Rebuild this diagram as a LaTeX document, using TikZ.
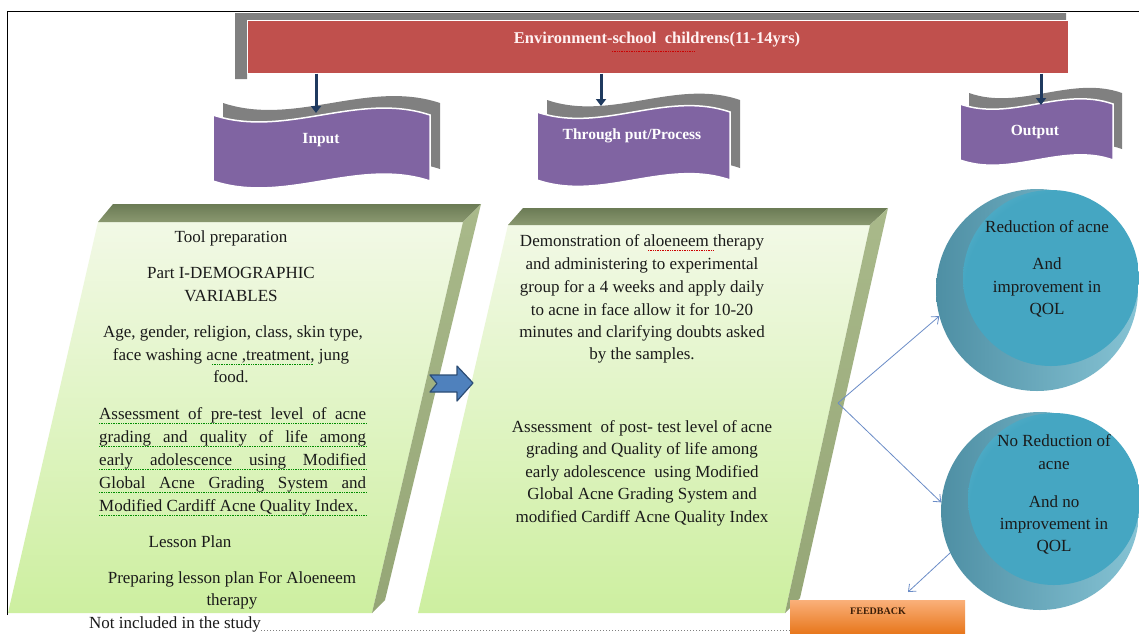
\documentclass[tikz,border=0pt]{standalone}
\usepackage{fontspec}
\setmainfont{Liberation Serif}
\usetikzlibrary{arrows.meta,shapes.geometric}
\definecolor{bannerred}{HTML}{C0504D}
\definecolor{shadowgray}{HTML}{808080}
\definecolor{wavepurple}{HTML}{8064A2}
\definecolor{navyarr}{HTML}{1F3A5F}
\definecolor{facetop}{HTML}{F2F9E6}
\definecolor{facebot}{HTML}{CDEFA0}
\definecolor{bevtopA}{HTML}{6B7B55}
\definecolor{bevtopB}{HTML}{8A9870}
\definecolor{bevsideA}{HTML}{A9B98A}
\definecolor{bevsideB}{HTML}{95A676}
\definecolor{arrowblue}{HTML}{4F81BD}
\definecolor{arrowedge}{HTML}{2C4D75}
\definecolor{linkblue}{HTML}{6A8CC7}
\definecolor{orangetop}{HTML}{FAB07A}
\definecolor{orangebot}{HTML}{E46C0A}
\definecolor{csideA}{HTML}{4E8FA4}
\definecolor{csideB}{HTML}{86C3D4}
\definecolor{cfaceA}{HTML}{45A6C2}
\definecolor{cfaceB}{HTML}{9BD3E2}
\definecolor{txtc}{HTML}{1A1A1A}
\definecolor{fbtext}{HTML}{3B1E08}
\pgfdeclareradialshading{cfaceshade}{\pgfpoint{8bp}{-8bp}}{color(0bp)=(cfaceA); color(28bp)=(cfaceA); color(50bp)=(cfaceB)}
\newcommand\wavebanner[6]{%
  \path[#6] (#1,#2) .. controls ({#1+#3/3},{#2+#5}) and ({#1+2*#3/3},{#2-#5}) .. ({#1+#3},#2)
    -- ({#1+#3},{#2+#4}) .. controls ({#1+2*#3/3},{#2+#4-#5}) and ({#1+#3/3},{#2+#4+#5}) .. (#1,{#2+#4}) -- cycle;}
\begin{document}
\begin{tikzpicture}[x=1pt,y=-1pt,
  txt/.style={font=\fontsize{17}{20}\selectfont, text=txtc, inner sep=0pt, anchor=base},
  bantxt/.style={font=\fontsize{15.5}{18}\selectfont\bfseries, text=white, inner sep=0pt},
  navyarrow/.style={draw=navyarr, line width=3pt, -{Triangle[length=7pt,width=10pt]}},
  linkarrow/.style={draw=linkblue, line width=0.8pt, -{Straight Barb[length=6pt,width=10pt]}},
  dotline/.style={draw=gray, dotted, line width=1pt},
  underg/.style={draw=green!55!black, densely dotted, line width=0.7pt},
  underr/.style={draw=red!80!black, densely dotted, line width=0.7pt}]
\useasboundingbox (0,0) rectangle (1139,633);
\clip (0,0) rectangle (1139,633);
\fill[white] (0,0) rectangle (1139,633);

% page frame
\draw[black, line width=1pt] (7,615) -- (7,11) -- (1139,11);

% environment banner
\fill[shadowgray] (235,13) -- (1066,13) -- (1066,20) -- (247,20) -- (247,79) -- (235,79) -- cycle;
\node[draw=white, line width=1pt, fill=bannerred, minimum width=821pt, minimum height=53pt, inner sep=0pt] (env) at (657.5,46.5) {};
\node[font=\fontsize{16.5}{19}\selectfont\bfseries, text=white!95!red, inner sep=0pt] (envt) at (657,40) {Environment-school\ \ childrens(11-14yrs)};
\draw[underr] (612,51) -- (694,51);

% wave banners
\wavebanner{223}{103}{217}{66}{24}{fill=shadowgray}
\wavebanner{213}{115}{217}{66}{24}{fill=wavepurple, draw=white, line width=1.5pt}
\wavebanner{547}{100}{193}{68}{22}{fill=shadowgray}
\wavebanner{537}{112}{193}{68}{22}{fill=wavepurple, draw=white, line width=1.5pt}
\wavebanner{969}{93}{153}{56}{18}{fill=shadowgray}
\wavebanner{960}{104}{153}{56}{18}{fill=wavepurple, draw=white, line width=1.5pt}
\node[bantxt] (inp) at (321,140) {Input};
\node[bantxt] (proc) at (632,136) {Through put/Process};
\node[bantxt] (outp) at (1035,132) {Output};

\coordinate (inT) at (316,113);
\coordinate (procT) at (601,106);
\coordinate (outT) at (1041,105);
\draw[navyarrow] (env.south -| inT) -- (inT);
\draw[navyarrow] (env.south -| procT) -- (procT);
\draw[navyarrow] (env.south -| outT) -- (outT);

% left box
\shade[top color=facetop, bottom color=facebot] (98,222) -- (463,222) -- (372,613) -- (8,613) -- cycle;
\shade[top color=bevtopA, bottom color=bevtopB] (113,204) -- (481,204) -- (463,222) -- (98,222) -- cycle;
\shade[top color=bevsideA, bottom color=bevsideB] (481,204) -- (385,600) -- (372,613) -- (463,222) -- cycle;

% middle box
\shade[top color=facetop, bottom color=facebot] (508,225) -- (870,225) -- (785,613) -- (418,613) -- cycle;
\shade[top color=bevtopA, bottom color=bevtopB] (523,208) -- (888,208) -- (870,225) -- (508,225) -- cycle;
\shade[top color=bevsideA, bottom color=bevsideB] (888,208) -- (800,598) -- (785,613) -- (870,225) -- cycle;

% block arrow
\draw[fill=arrowblue, draw=arrowedge, line width=1.2pt, line join=round]
  (430,375) -- (457,375) -- (457,366) -- (473,383) -- (457,401) -- (457,392) -- (430,392) -- (437,383.5) -- cycle;

% left box text
\node[txt] (l1) at (231,242) {Tool preparation};
\node[txt] (l2) at (231,278) {Part I-DEMOGRAPHIC};
\node[txt] (l3) at (231,301) {VARIABLES};
\node[txt] (l4) at (233,337) {Age, gender, religion, class, skin type,};
\node[txt] (l5) at (231,360) {face washing acne ,treatment, jung};
\node[txt] (l6) at (231,382) {food.};
\node[txt, anchor=base west] (l7) at (99,419) {\makebox[267pt][s]{Assessment of pre-test level of acne}};
\node[txt, anchor=base west] (l8) at (99,442) {\makebox[267pt][s]{grading and quality of life among}};
\node[txt, anchor=base west] (l9) at (99,465) {\makebox[267pt][s]{early adolescence using Modified}};
\node[txt, anchor=base west] (l10) at (99,488) {\makebox[267pt][s]{Global Acne Grading System and}};
\node[txt, anchor=base west] (l11) at (99,511) {Modified Cardiff Acne Quality Index.};
\node[txt] (l12) at (190,547) {Lesson Plan};
\node[txt] (l13) at (232,583) {Preparing lesson plan For Aloeneem};
\node[txt] (l14) at (232,605) {therapy};
\draw[underg] (212,364) -- (313,364);
\foreach \yy in {423,446,469,492,515} \draw[underg] (99,\yy) -- (366,\yy);

% middle box text
\node[txt] (m1) at (642,246) {Demonstration of aloeneem therapy};
\node[txt] (m2) at (642,269) {and administering to experimental};
\node[txt] (m3) at (642,292) {group for a 4 weeks and apply daily};
\node[txt] (m4) at (642,315) {to acne in face allow it for 10-20};
\node[txt] (m5) at (642,337) {minutes and clarifying doubts asked};
\node[txt] (m6) at (642,359) {by the samples.};
\node[txt] (m7) at (642,432) {Assessment\ \ of post- test level of acne};
\node[txt] (m8) at (642,454) {grading and Quality of life among};
\node[txt] (m9) at (642,477) {early adolescence\ \ using Modified};
\node[txt] (m10) at (642,499) {Global Acne Grading System and};
\node[txt] (m11) at (642,522) {modified Cardiff Acne Quality Index};
\draw[underr] (648,250) -- (714,250);

% output circles
\node[circle, minimum size=202pt, inner sep=0pt, left color=csideA, right color=csideB] (c1) at (1037,290) {};
\shade[shading=cfaceshade] (1051,278) circle[radius=88pt];
\node[circle, minimum size=198pt, inner sep=0pt, left color=csideA, right color=csideB] (c2) at (1040,511) {};
\shade[shading=cfaceshade] (1054,499) circle[radius=86pt];
\node[txt] (o1) at (1047,232) {Reduction of acne};
\node[txt] (o2) at (1047,269) {And};
\node[txt] (o3) at (1047,292) {improvement in};
\node[txt] (o4) at (1047,314) {QOL};
\node[txt] (p1) at (1054,446) {No Reduction of};
\node[txt] (p2) at (1054,469) {acne};
\node[txt] (p3) at (1054,507) {And no};
\node[txt] (p4) at (1054,529) {improvement in};
\node[txt] (p5) at (1054,551) {QOL};

% connectors
\coordinate (v) at (838,403);
\coordinate (fbend) at (908,592);
\draw[linkarrow] (v) -- (c1.195);
\draw[linkarrow] (v) -- (c2.175);
\draw[linkarrow] (c2.205) -- (fbend);

% bottom
\node[txt] (nis) at (175,628) {Not included in the study};
\coordinate (dotend) at (813,630);
\draw[dotline] (nis.east |- dotend) -- (dotend);
\node[top color=orangetop, bottom color=orangebot, minimum width=175pt, minimum height=40pt, inner sep=0pt] (fb) at (877.5,620) {};
\node[font=\fontsize{10}{12}\selectfont\bfseries, text=fbtext, inner sep=0pt] (fbt) at (878,611) {FEEDBACK};
\end{tikzpicture}
\end{document}
